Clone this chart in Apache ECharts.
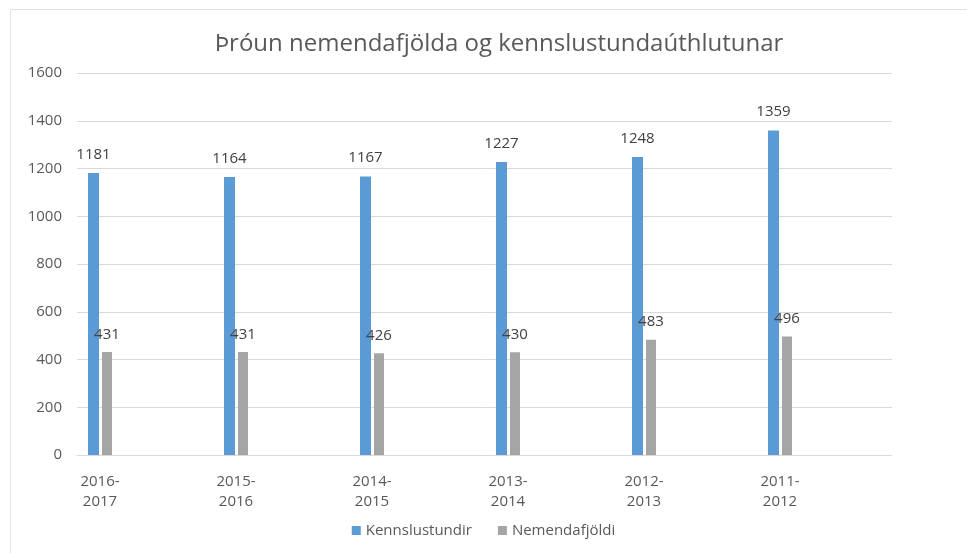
<!DOCTYPE html>
<html>
<head>
<meta charset="utf-8">
<script src="https://cdn.jsdelivr.net/npm/echarts@6/dist/echarts.min.js"></script>
<style>
html,body{margin:0;padding:0;background:#fff;}
#main{width:967px;height:553px;}
</style>
</head>
<body>
<div id="main"></div>
<script>
var titleText = 'Þróun nemendafjölda og kennslustundaúthlutunar';
var categories = ['2016-\n2017', '2015-\n2016', '2014-\n2015', '2013-\n2014', '2012-\n2013', '2011-\n2012'];
var kennslustundir = [1181, 1164, 1167, 1227, 1248, 1359];
var nemendafjoldi = [431, 431, 426, 430, 483, 496];
var seriesNames = ['Kennslustundir', 'Nemendafjöldi'];

var font = 'Open Sans';
var txt = '#595959';
var myChart = echarts.init(document.getElementById('main'));

var option = {
    animation: false,
    backgroundColor: '#fff',
    title: {
        text: titleText,
        left: 494,
        textAlign: 'center',
        top: 27,
        textStyle: {fontFamily: font, fontWeight: 'normal', fontSize: 24, color: txt}
    },
    legend: {
        data: seriesNames,
        left: 'center',
        bottom: 10,
        icon: 'rect',
        itemWidth: 9,
        itemHeight: 9,
        itemGap: 26,
        textStyle: {fontFamily: font, fontSize: 15, color: txt}
    },
    // grid 0 draws the gridlines and y labels, grid 1 holds the bars
    grid: [
        {left: 77, right: 75, top: 73, bottom: 98},
        {left: 32, right: 119, top: 73, bottom: 98}
    ],
    xAxis: [
        {
            type: 'category', gridIndex: 0, data: categories,
            axisLine: {lineStyle: {color: '#D9D9D9'}},
            axisTick: {show: false}, axisLabel: {show: false}
        },
        {
            type: 'category', gridIndex: 1, data: categories,
            axisLine: {show: false}, axisTick: {show: false},
            axisLabel: {fontFamily: font, fontSize: 15, color: txt, lineHeight: 20, margin: 17}
        }
    ],
    yAxis: [
        {
            type: 'value', gridIndex: 0, min: 0, max: 1600, interval: 200,
            axisLine: {show: false}, axisTick: {show: false},
            axisLabel: {fontFamily: font, fontSize: 15, color: txt, margin: 15,
                formatter: function (v) { return String(v); }},
            splitLine: {lineStyle: {color: '#D9D9D9'}}
        },
        {
            type: 'value', gridIndex: 1, min: 0, max: 1600, interval: 200,
            show: false, splitLine: {show: false}
        }
    ],
    series: [
        {
            name: seriesNames[0], type: 'bar', xAxisIndex: 1, yAxisIndex: 1,
            data: kennslustundir, barWidth: 11, barGap: '27%',
            itemStyle: {color: '#5B9BD5'},
            label: {show: true, position: 'top', distance: 11, fontFamily: font, fontSize: 15, color: '#404040'}
        },
        {
            name: seriesNames[1], type: 'bar', xAxisIndex: 1, yAxisIndex: 1,
            data: nemendafjoldi, barWidth: 10, barGap: '27%',
            itemStyle: {color: '#A5A5A5'},
            label: {show: true, position: 'top', distance: 10, fontFamily: font, fontSize: 15, color: '#404040'}
        }
    ],
    graphic: [{
        type: 'rect', left: 8, top: 7, silent: true,
        shape: {width: 980, height: 545},
        style: {fill: 'none', stroke: '#E2E2E2', lineWidth: 1}
    }]
};
myChart.setOption(option);
</script>
</body>
</html>
